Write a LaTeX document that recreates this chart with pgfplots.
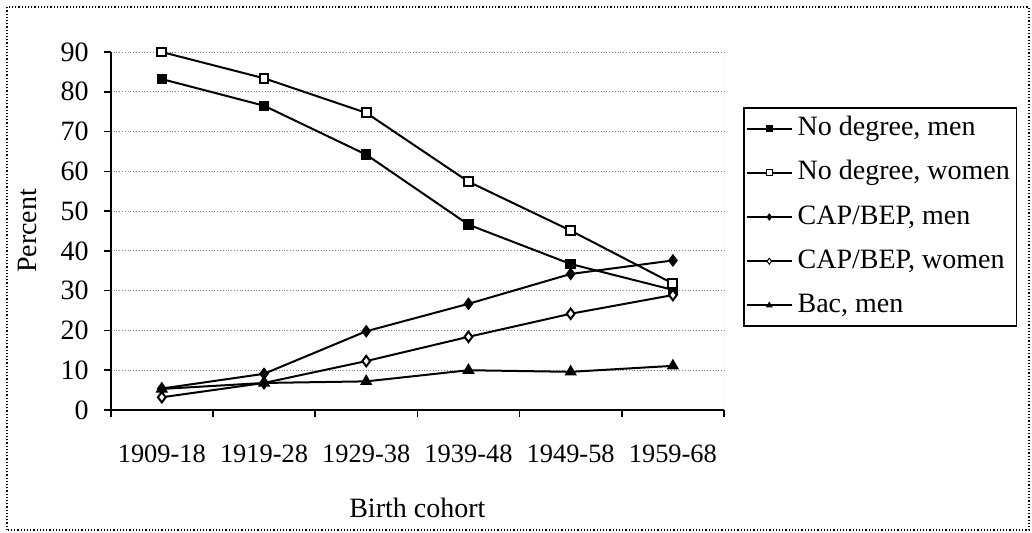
\documentclass[border=0pt]{standalone}
\usepackage{fontspec}
\setmainfont{Liberation Serif}
\usepackage{pgfplots}
\pgfplotsset{compat=1.18}
\begin{document}
\begin{tikzpicture}
\useasboundingbox (0,0) rectangle (516pt,266pt);
\draw[densely dotted, line width=0.6pt] (3.5pt,1pt) rectangle (514.5pt,262.5pt);
\begin{axis}[
  at={(55.35pt,61pt)}, anchor=south west,
  scale only axis, width=306.65pt, height=179pt,
  xmin=0, xmax=6, ymin=0, ymax=90,
  axis x line*=bottom, axis y line*=left,
  axis line style={line width=1pt, -},
  font=\fontsize{14pt}{16pt}\selectfont,
  /pgf/number format/assume math mode=true,
  ytick={0,10,...,90},
  xtick={0,1,...,6}, xticklabels={},
  extra x ticks={0.5,1.5,...,5.5},
  extra x tick labels={1909-18,1919-28,1929-38,1939-48,1949-58,1959-68},
  extra x tick style={major tick length=0pt, grid=none, xticklabel style={yshift=-14pt, font=\fontsize{13.2pt}{15pt}\selectfont}},
  tick align=outside, major tick length=3.5pt,
  tick style={line width=0.8pt, black},
  ymajorgrids, grid style={densely dotted, gray, line width=0.5pt},
  yticklabel style={xshift=-4pt},
  xlabel={Birth cohort}, ylabel={Percent},
  xlabel style={at={(axis description cs:0.5,0)}, anchor=center, yshift=-49pt},
  ylabel style={at={(axis description cs:-0.1365,0.5)}, anchor=center},
  legend style={at={(1.031,0.8464)}, anchor=north west, draw=black, line width=0.8pt,
    inner xsep=1pt, inner ysep=1.5pt, font=\fontsize{14pt}{16pt}\selectfont,
    nodes={inner sep=2.4pt, text height=10pt, text depth=3pt}, row sep=4.3pt},
  legend cell align=left,
  legend image code/.code={\draw[#1, mark size=1.5pt, mark repeat=2, mark phase=2, every mark/.append style={line width=0.5pt}] plot coordinates {(0pt,0pt) (11.25pt,0pt) (22.5pt,0pt)};},
  every axis plot/.append style={line width=1pt, black, mark options={solid, line width=0.8pt}},
]
\draw[densely dotted, gray, line width=0.5pt] (rel axis cs:1,0) -- (rel axis cs:1,1);
\addplot[mark=square*, mark size=2.2pt] coordinates {(0.5,83.2) (1.5,76.5) (2.5,64.2) (3.5,46.6) (4.5,36.7) (5.5,30.2)};
\addlegendentry{No degree, men}
\addplot[mark=square*, mark size=2.2pt, mark options={fill=white}] coordinates {(0.5,90) (1.5,83.4) (2.5,74.7) (3.5,57.4) (4.5,45.1) (5.5,31.8)};
\addlegendentry{No degree, women}
\addplot[mark=diamond*, mark size=2.6pt] coordinates {(0.5,5.4) (1.5,9.1) (2.5,19.8) (3.5,26.7) (4.5,34.2) (5.5,37.6)};
\addlegendentry{CAP/BEP, men}
\addplot[mark=diamond*, mark size=2.6pt, mark options={fill=white}] coordinates {(0.5,3.2) (1.5,6.8) (2.5,12.3) (3.5,18.4) (4.5,24.2) (5.5,28.9)};
\addlegendentry{CAP/BEP, women}
\addplot[mark=triangle*, mark size=2.8pt] coordinates {(0.5,5.3) (1.5,6.8) (2.5,7.2) (3.5,10.0) (4.5,9.6) (5.5,11.1)};
\addlegendentry{Bac, men}
\end{axis}
\end{tikzpicture}
\end{document}
